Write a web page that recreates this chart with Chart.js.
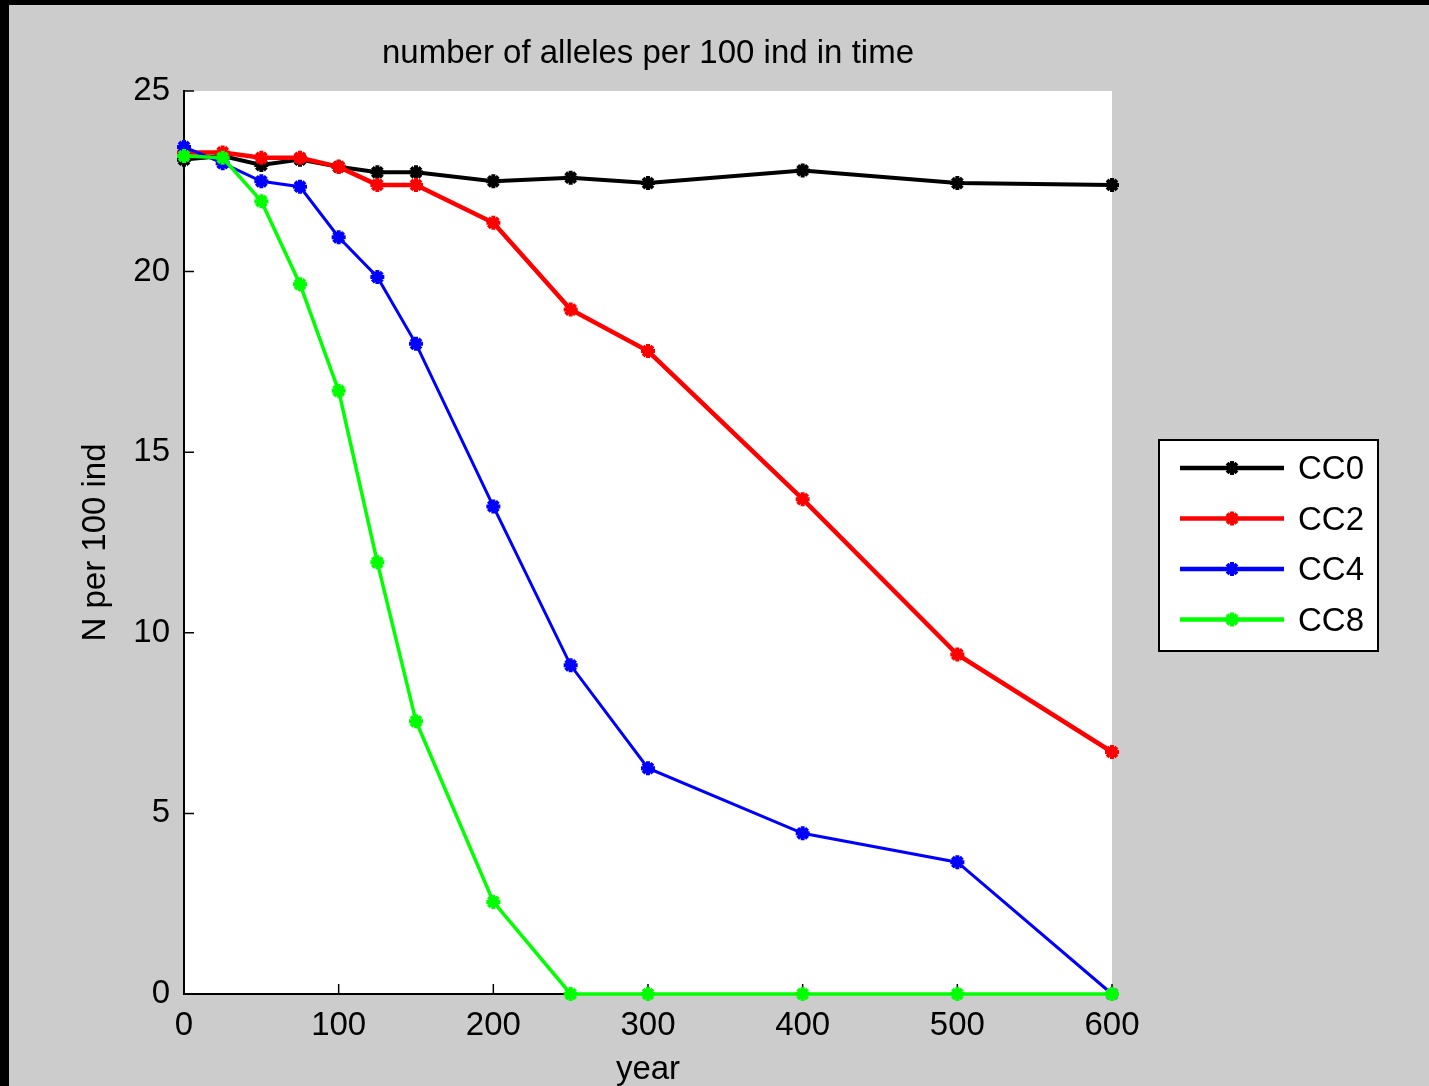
<!DOCTYPE html>
<html>
<head>
<meta charset="utf-8">
<script src="https://cdn.jsdelivr.net/npm/chart.js@4"></script>
<style>
  body { margin: 0; background: #000; width: 1429px; height: 1086px; overflow: hidden; }
  #chart { position: absolute; left: 9px; top: 5px; background: #cccccc; }
</style>
</head>
<body>
<canvas id="chart" width="1420" height="1081"></canvas>
<script>
const years = [0, 25, 50, 75, 100, 125, 150, 200, 250, 300, 400, 500, 600];
const cc0 = [23.1, 23.2, 22.95, 23.1, 22.9, 22.75, 22.75, 22.5, 22.6, 22.45, 22.8, 22.45, 22.4];
const cc2 = [23.3, 23.3, 23.15, 23.15, 22.9, 22.4, 22.4, 21.35, 18.95, 17.8, 13.7, 9.4, 6.7];
const cc4 = [23.45, 23.0, 22.5, 22.35, 20.95, 19.85, 18.0, 13.5, 9.1, 6.25, 4.45, 3.65, 0];
const cc8 = [23.2, 23.15, 21.95, 19.65, 16.7, 11.95, 7.55, 2.55, 0, 0, 0, 0, 0];

const seriesNames = ['CC0', 'CC2', 'CC4', 'CC8'];
const seriesColors = ['#000000', '#ff0000', '#0000ff', '#00ff00'];
const seriesWidths = [4, 4.5, 3, 3.5];
const seriesValues = [cc0, cc2, cc4, cc8];
const xTicks = [0, 100, 200, 300, 400, 500, 600];
const yTicks = [0, 5, 10, 15, 20, 25];
const titleText = 'number of alleles per 100 ind in time';

const FONT = "'Liberation Sans', Arial, sans-serif";

function toPoints(vals) {
    return vals.map((v, i) => ({ x: years[i], y: v }));
}

// fondo blanco del area, ticks hacia adentro, titulo y leyenda con recuadro
const matlabLook = {
    id: 'matlabLook',
    beforeDraw(chart) {
        const a = chart.chartArea;
        const ctx = chart.ctx;
        ctx.save();
        ctx.fillStyle = '#ffffff';
        ctx.fillRect(a.left, a.top, a.right - a.left, a.bottom - a.top);
        ctx.restore();
    },
    beforeDatasetsDraw(chart) {
        const a = chart.chartArea;
        const ctx = chart.ctx;
        const xs = chart.scales.x, ys = chart.scales.y;
        ctx.save();
        ctx.strokeStyle = '#000';
        ctx.lineWidth = 1.5;
        ctx.beginPath();
        xTicks.forEach(t => {
            const px = xs.getPixelForValue(t);
            ctx.moveTo(px, a.bottom);
            ctx.lineTo(px, a.bottom - 10);
        });
        yTicks.forEach(t => {
            const py = ys.getPixelForValue(t);
            ctx.moveTo(a.left, py);
            ctx.lineTo(a.left + 10, py);
        });
        ctx.stroke();
        ctx.restore();
    },
    afterDraw(chart) {
        const a = chart.chartArea;
        const ctx = chart.ctx;
        ctx.save();
        // titulo centrado sobre el area de datos
        ctx.fillStyle = '#000';
        ctx.font = '33px ' + FONT;
        ctx.textAlign = 'center';
        ctx.textBaseline = 'middle';
        ctx.fillText(titleText, (a.left + a.right) / 2, 49);

        const bx = a.right + 47, by = 435, bw = 219, bh = 211;
        ctx.fillStyle = '#ffffff';
        ctx.fillRect(bx, by, bw, bh);
        ctx.strokeStyle = '#000';
        ctx.lineWidth = 2;
        ctx.strokeRect(bx, by, bw, bh);
        ctx.textAlign = 'left';
        seriesNames.forEach((name, i) => {
            const y = by + 28 + i * 50.5;
            ctx.strokeStyle = seriesColors[i];
            ctx.fillStyle = seriesColors[i];
            ctx.lineWidth = 4.5;
            ctx.beginPath();
            ctx.moveTo(bx + 21, y);
            ctx.lineTo(bx + 125, y);
            ctx.stroke();
            ctx.lineWidth = 4;
            Chart.helpers.drawPoint(ctx, { pointStyle: 'star', radius: 7, borderWidth: 4, rotation: 0 }, bx + 73, y);
            ctx.fillStyle = '#000';
            ctx.fillText(name, bx + 139, y + 2);
        });
        ctx.restore();
    }
};

const ctx = document.getElementById('chart').getContext('2d');
new Chart(ctx, {
    type: 'line',
    data: {
        datasets: seriesNames.map((name, i) => ({
            label: name,
            data: toPoints(seriesValues[i]),
            borderColor: seriesColors[i],
            backgroundColor: seriesColors[i],
            borderWidth: seriesWidths[i],
            pointStyle: 'star',
            pointRadius: 7,
            pointBorderWidth: 4,
            tension: 0,
            clip: false,
            order: 4 - i
        }))
    },
    options: {
        responsive: false,
        animation: false,
        events: [],
        layout: { padding: { left: 0, right: 317, top: 86, bottom: 0 } },
        plugins: {
            legend: { display: false },
            tooltip: { enabled: false },
            title: { display: false }
        },
        scales: {
            x: {
                type: 'linear',
                min: 0,
                max: 600,
                grid: { display: false, drawTicks: false },
                border: { display: true, color: '#000', width: 2 },
                ticks: {
                    stepSize: 100,
                    color: '#000',
                    padding: 12,
                    font: { family: FONT, size: 33 }
                },
                title: {
                    display: true,
                    text: 'year',
                    color: '#000',
                    font: { family: FONT, size: 33, lineHeight: 1 },
                    padding: { top: 0, bottom: 0 }
                },
                afterFit(scale) { scale.height = 92; }
            },
            y: {
                min: 0,
                max: 25,
                grid: { display: false, drawTicks: false },
                border: { display: true, color: '#000', width: 2 },
                ticks: {
                    stepSize: 5,
                    color: '#000',
                    padding: 14,
                    font: { family: FONT, size: 33 }
                },
                title: {
                    display: true,
                    text: 'N per 100 ind',
                    color: '#000',
                    font: { family: FONT, size: 33, lineHeight: 1 },
                    padding: { top: 70, bottom: 0 }
                },
                afterFit(scale) { scale.width = 175; }
            }
        }
    },
    plugins: [matlabLook]
});
</script>
</body>
</html>
